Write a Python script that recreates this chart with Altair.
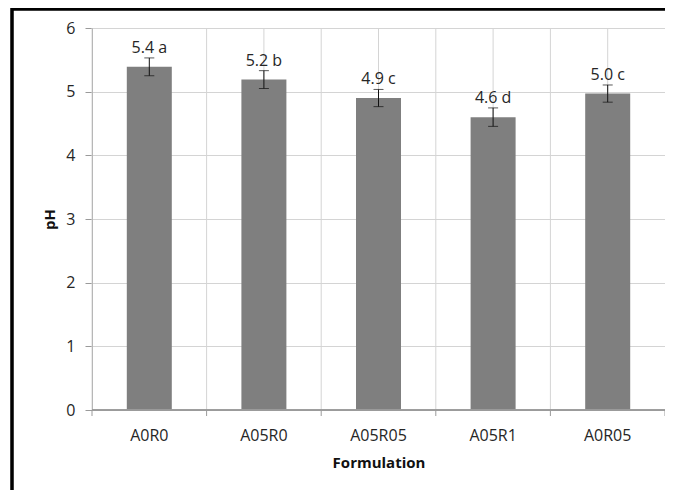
import altair as alt
import pandas as pd

categories = ["A0R0", "A05R0", "A05R05", "A05R1", "A0R05"]
ph_values = [5.39, 5.19, 4.90, 4.60, 4.97]
ph_errors = [0.14, 0.14, 0.135, 0.145, 0.135]
letters = ["a", "b", "c", "d", "c"]
y_ticks = [0, 1, 2, 3, 4, 5, 6]

df = pd.DataFrame({
    "cat": categories,
    "ph": ph_values,
    "err": ph_errors,
    "letter": letters,
})
df["lo"] = df["ph"] - df["err"]
df["hi"] = df["ph"] + df["err"]
df["label"] = [f"{v:.1f} {l}" for v, l in zip(df["ph"], df["letter"])]
df["is_last"] = [i == len(categories) - 1 for i in range(len(categories))]
df["is_first"] = [i == 0 for i in range(len(categories))]

FONT = "Open Sans"
GRID = "#d4d4d4"
AXIS = "#9a9a9a"
TEXT = "#262626"

W, H = 573, 382

xscale = alt.Scale(domain=categories, paddingInner=0, paddingOuter=0)
yscale = alt.Scale(domain=[0, 6], nice=False)

base = alt.Chart(df)

# vertical gridlines at category boundaries
bound_rules = base.mark_rule(color=GRID, strokeWidth=1).encode(
    x=alt.X("cat:N", scale=xscale, bandPosition=0,
            axis=alt.Axis(title="Formulation", ticks=False, grid=False, domain=False,
                          labelFontSize=16, labelFont=FONT, labelColor=TEXT,
                          labelPadding=17, labelAngle=0,
                          titleFont=FONT, titleFontSize=15, titleFontWeight="bold",
                          titleColor="#111111", titlePadding=12)),
    y=alt.value(0),
    y2=alt.value(H),
)

# vertical gridlines at category centres (except the first)
center_rules = base.transform_filter("!datum.is_first").mark_rule(color=GRID, strokeWidth=1).encode(
    x=alt.X("cat:N", scale=xscale),
    y=alt.value(0),
    y2=alt.value(H),
)

# tick marks below the x axis at boundaries
bound_ticks = base.mark_rule(color=AXIS, strokeWidth=1).encode(
    x=alt.X("cat:N", scale=xscale, bandPosition=0),
    y=alt.value(H),
    y2=alt.value(H + 6),
)
last_tick = base.transform_filter("datum.is_last").mark_rule(color=AXIS, strokeWidth=1).encode(
    x=alt.X("cat:N", scale=xscale, bandPosition=1),
    y=alt.value(H),
    y2=alt.value(H + 6),
)

bars = base.mark_bar(color="#7f7f7f", size=45).encode(
    x=alt.X("cat:N", scale=xscale),
    y=alt.Y("ph:Q", scale=yscale,
            axis=alt.Axis(title="pH", values=y_ticks, format="d", grid=True, gridColor=GRID,
                          domainColor=AXIS, tickColor=AXIS, tickSize=7,
                          labelFontSize=16, labelFont=FONT, labelColor=TEXT,
                          labelPadding=10,
                          titleFont=FONT, titleFontSize=15, titleFontWeight="bold",
                          titleColor="#111111", titlePadding=8)),
)

err_rule = base.mark_rule(color="#111111", strokeWidth=1).encode(
    x=alt.X("cat:N", scale=xscale),
    y=alt.Y("lo:Q", scale=yscale),
    y2="hi:Q",
)
cap_hi = base.mark_tick(color="#111111", size=10, thickness=1, orient="horizontal").encode(
    x=alt.X("cat:N", scale=xscale),
    y=alt.Y("hi:Q", scale=yscale),
)
cap_lo = base.mark_tick(color="#111111", size=10, thickness=1, orient="horizontal").encode(
    x=alt.X("cat:N", scale=xscale),
    y=alt.Y("lo:Q", scale=yscale),
)

labels = base.mark_text(font=FONT, fontSize=16, color=TEXT, baseline="alphabetic", dy=-5).encode(
    x=alt.X("cat:N", scale=xscale),
    y=alt.Y("hi:Q", scale=yscale),
    text="label:N",
)

# x axis baseline
x_domain = base.mark_rule(color=AXIS, strokeWidth=1).encode(
    x=alt.value(0), x2=alt.value(W), y=alt.value(H),
)

# outer frame (left and top edges visible)
frame_left = base.mark_rule(color="#000000", strokeWidth=2.5).encode(
    x=alt.value(-80), y=alt.value(-20), y2=alt.value(H + 200),
)
frame_top = base.mark_rule(color="#000000", strokeWidth=2.5).encode(
    y=alt.value(-19), x=alt.value(-81), x2=alt.value(W + 200),
)

chart = alt.layer(
    bound_rules, center_rules, bars, err_rule, cap_hi, cap_lo, labels,
    bound_ticks, last_tick, x_domain, frame_left, frame_top,
).properties(
    width=W, height=H,
    autosize=alt.AutoSizeParams(type="none"),
    padding={"left": 84, "top": 20, "right": 0, "bottom": 80},
).configure_view(
    stroke=GRID, strokeWidth=1,
).configure(background="white")

chart.save("out.html", embed_options={"renderer": "svg", "actions": False})
